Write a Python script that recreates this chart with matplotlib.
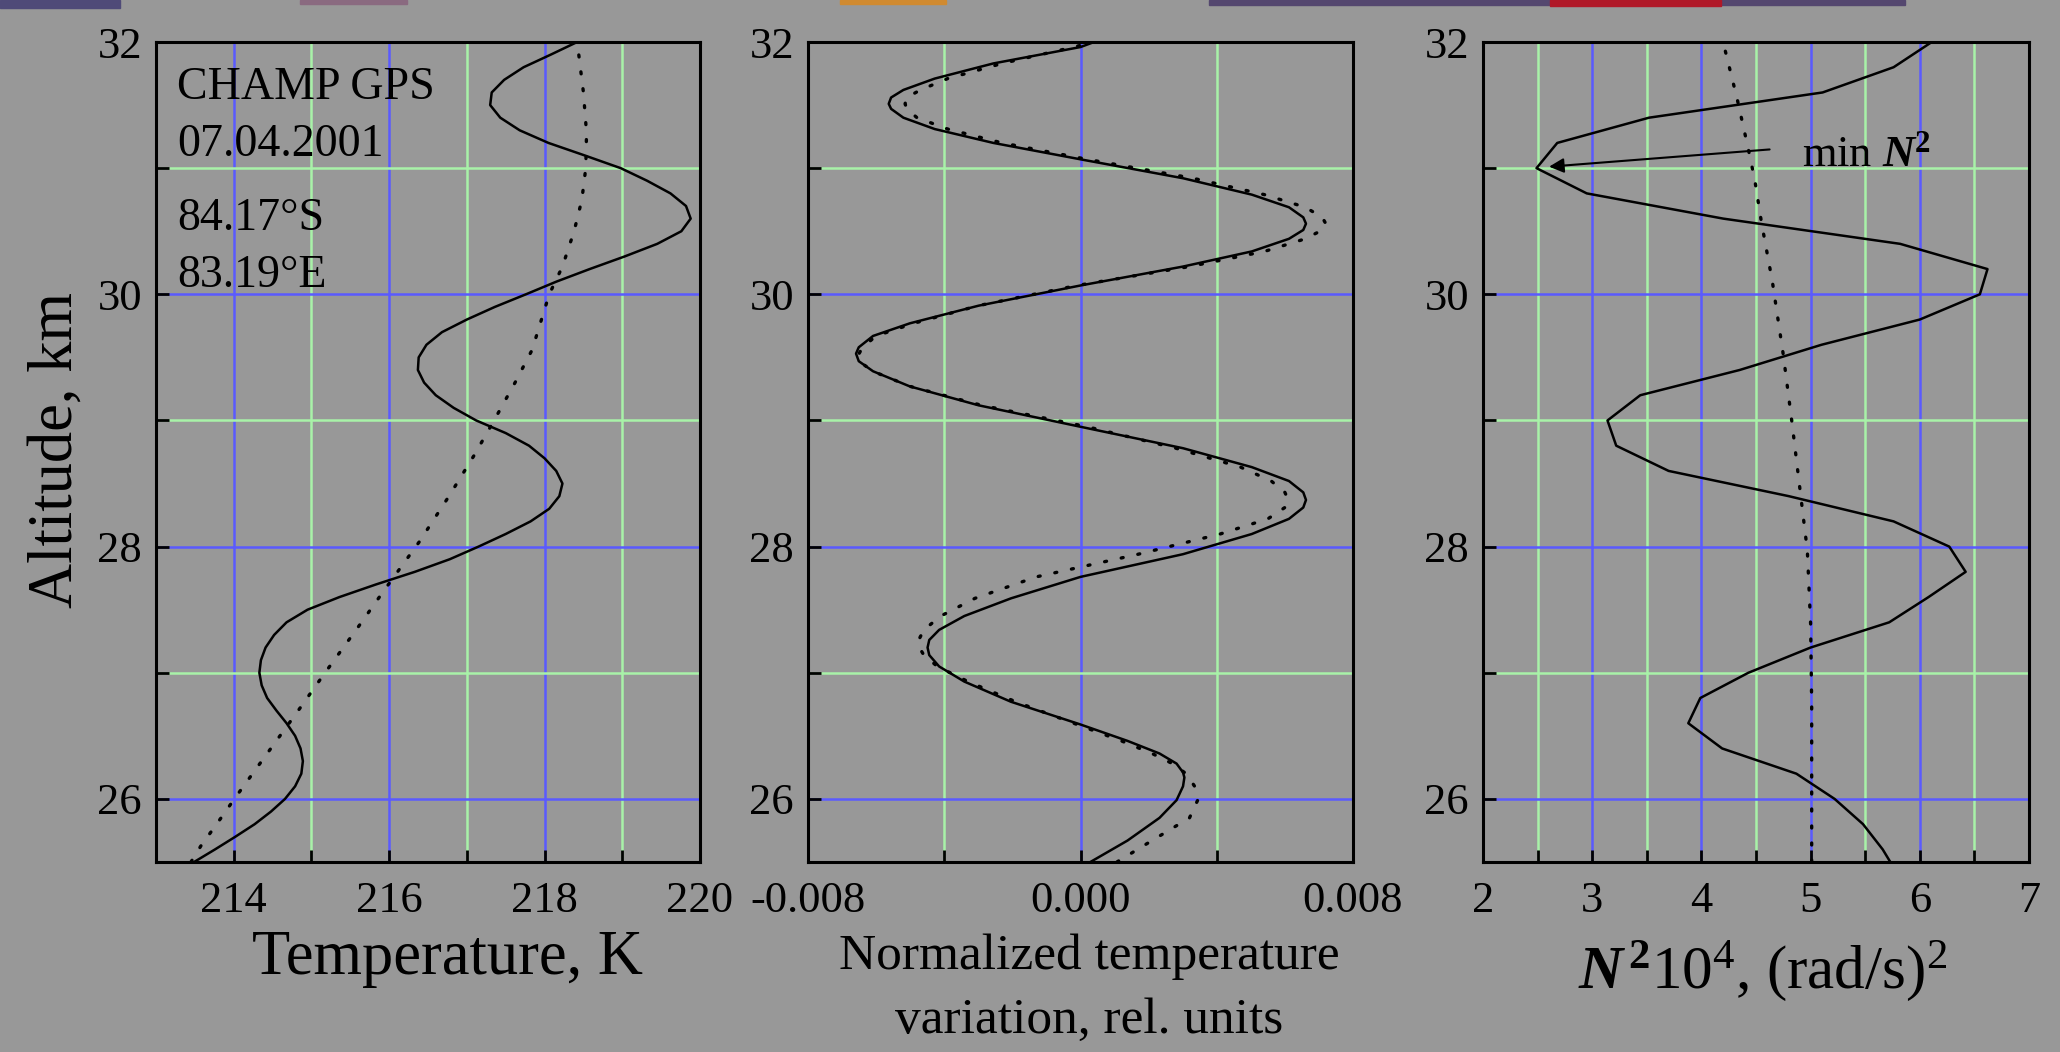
import matplotlib
matplotlib.use("Agg")
import matplotlib.pyplot as plt
from matplotlib.patches import Rectangle
from matplotlib.ticker import FormatStrFormatter

# ---- panel 1: temperature profile, K ----
t_alt = [25.5, 25.6, 25.7, 25.8, 25.9, 26.0, 26.1, 26.2, 26.3, 26.4, 26.5, 26.6, 26.7, 26.8,
         26.9, 27.0, 27.1, 27.2, 27.3, 27.4, 27.5, 27.6, 27.7, 27.8, 27.9, 28.0, 28.1, 28.2,
         28.3, 28.4, 28.5, 28.6, 28.7, 28.8, 28.9, 29.0, 29.1, 29.2, 29.3, 29.4, 29.5, 29.6,
         29.7, 29.8, 29.9, 30.0, 30.1, 30.2, 30.3, 30.4, 30.5, 30.6, 30.7, 30.8, 30.9, 31.0,
         31.1, 31.2, 31.3, 31.4, 31.5, 31.6, 31.7, 31.8, 31.9, 32.0]
t_solid = [213.49, 213.76, 214.02, 214.27, 214.48, 214.66, 214.79, 214.87, 214.89, 214.86,
           214.79, 214.68, 214.55, 214.43, 214.36, 214.33, 214.35, 214.41, 214.52, 214.68,
           214.95, 215.36, 215.83, 216.33, 216.78, 217.15, 217.5, 217.82, 218.06, 218.19,
           218.23, 218.15, 218.0, 217.8, 217.5, 217.12, 216.83, 216.6, 216.45, 216.37,
           216.38, 216.48, 216.68, 217.0, 217.36, 217.76, 218.15, 218.58, 219.03, 219.45,
           219.76, 219.88, 219.82, 219.62, 219.32, 218.98, 218.52, 218.05, 217.68, 217.43,
           217.3, 217.32, 217.48, 217.73, 218.08, 218.42]
td_alt = [25.5, 25.63, 25.8, 26.01, 26.3, 26.7, 26.97, 27.37, 27.64, 28.04, 28.4, 28.72, 29.0,
          29.3, 29.56, 29.8, 30.0, 30.22, 30.5, 30.75, 31.0, 31.28, 31.6, 32.0]
t_dot = [213.45, 213.58, 213.78, 214.02, 214.36, 214.83, 215.14, 215.61, 215.92, 216.39, 216.77,
         217.09, 217.35, 217.62, 217.84, 217.96, 218.06, 218.23, 218.38, 218.48, 218.53, 218.54,
         218.5, 218.42]

# ---- panel 2: normalized temperature variation ----
v_alt = [25.5, 25.67, 25.85, 25.99, 26.1, 26.17, 26.21, 26.28, 26.36, 26.46, 26.59,
         26.77, 26.93, 27.05, 27.14, 27.2, 27.26, 27.34, 27.45, 27.59, 27.76,
         27.94, 28.1, 28.22, 28.31, 28.37, 28.43, 28.52, 28.63, 28.78, 28.95,
         29.12, 29.27, 29.39, 29.47, 29.53, 29.58, 29.67, 29.77, 29.91, 30.07,
         30.22, 30.34, 30.44, 30.51, 30.56, 30.61, 30.69, 30.79, 30.92, 31.07,
         31.2, 31.31, 31.4, 31.47, 31.51, 31.56, 31.62, 31.71, 31.83, 31.96, 32.0]
v_solid = [0.00029, 0.00138, 0.00232, 0.00282, 0.00301, 0.00305, 0.00301, 0.00282, 0.00232, 0.00138, 0.0,
           -0.00204, -0.00341, -0.00415, -0.00444, -0.00449, -0.00444, -0.00415, -0.00341, -0.00204, 0.0,
           0.00301, 0.00503, 0.00612, 0.00654, 0.00662, 0.00654, 0.00612, 0.00503, 0.00301, 0.0,
           -0.00299, -0.00501, -0.00609, -0.00651, -0.00659, -0.00651, -0.00609, -0.00501, -0.00299, 0.0,
           0.00301, 0.00503, 0.00612, 0.00654, 0.00662, 0.00654, 0.00612, 0.00503, 0.00301, 0.0,
           -0.00256, -0.00428, -0.0052, -0.00556, -0.00563, -0.00556, -0.0052, -0.00428, -0.00256, 0.0, 0.0004]
v_dot = [0.00107, 0.0021, 0.0032, 0.00344, 0.00335, 0.00318, 0.00305, 0.0027, 0.0021, 0.0012, -0.0001,
         -0.0019, -0.0033, -0.0042, -0.0046, -0.00473, -0.00475, -0.0046, -0.0041, -0.0031, -0.0013,
         0.0017, 0.0041, 0.0055, 0.006, 0.0061, 0.006, 0.0056, 0.0047, 0.0028, 0.0002,
         -0.0029, -0.005, -0.0061, -0.0065, -0.0065, -0.0064, -0.006, -0.0049, -0.003, -0.0001,
         0.0032, 0.0054, 0.0066, 0.0071, 0.0072, 0.0071, 0.0066, 0.0054, 0.0033, 0.0002,
         -0.0023, -0.0039, -0.0048, -0.0051, -0.00515, -0.0051, -0.0047, -0.0039, -0.0023, -0.0002, 0.0004]

# ---- panel 3: N^2 * 1e4, (rad/s)^2 ----
n_alt = [25.5, 25.6, 25.8, 26.0, 26.2, 26.4, 26.6, 26.8, 27.0, 27.2, 27.4, 27.6, 27.8, 28.0,
         28.2, 28.4, 28.6, 28.8, 29.0, 29.2, 29.4, 29.6, 29.8, 30.0, 30.2, 30.4, 30.6, 30.8,
         31.0, 31.2, 31.4, 31.6, 31.8, 32.0]
n_solid = [5.73, 5.66, 5.48, 5.22, 4.87, 4.19, 3.88, 3.99, 4.43, 5.0, 5.72, 6.08, 6.42, 6.27,
           5.76, 4.8, 3.70, 3.22, 3.14, 3.44, 4.35, 5.1, 6.0, 6.55, 6.62, 5.82, 4.2, 2.95, 2.49,
           2.68, 3.52, 5.11, 5.76, 6.11]
nd_alt = [25.5, 26.0, 26.75, 27.39, 27.97, 28.4, 28.98, 29.52, 30.1, 30.57, 30.9, 31.15, 31.54, 31.96]
n_dot = [5.01, 5.01, 5.01, 5.0, 4.97, 4.91, 4.83, 4.75, 4.65, 4.55, 4.49, 4.43, 4.33, 4.21]

info_lines = ["CHAMP GPS", "07.04.2001", "84.17°S", "83.19°E"]

plt.rcParams['font.family'] = ['Liberation Serif', 'DejaVu Serif']
plt.rcParams['axes.unicode_minus'] = False
plt.rcParams['mathtext.fontset'] = 'custom'
plt.rcParams['mathtext.rm'] = 'Liberation Serif'
plt.rcParams['mathtext.it'] = 'Liberation Serif:italic'
plt.rcParams['mathtext.bf'] = 'Liberation Serif:bold'
plt.rcParams['mathtext.bfit'] = 'Liberation Serif:italic:bold'

bg = '#989898'
blue = '#5a5aff'
green = '#a8f2a8'
W, H = 2060, 1052

fig = plt.figure(figsize=(W / 100, H / 100), dpi=100, facecolor=bg)

# bits of the slide background peeking at the top
for x0, x1, h, c in [(0, 120, 8, '#4f4a78'), (300, 407, 4, '#8a6a80'), (840, 946, 4, '#d08a30'),
                     (1209, 1905, 5, '#54476f'), (1550, 1721, 6, '#b01828')]:
    fig.patches.append(Rectangle((x0 / W, 1 - h / H), (x1 - x0) / W, h / H,
                                 transform=fig.transFigure, color=c, zorder=0))

top, bot = 42, 862
spans = [(156, 700), (808, 1353), (1483, 2029)]
axes = []
for x0, x1 in spans:
    ax = fig.add_axes([x0 / W, 1 - bot / H, (x1 - x0) / W, (bot - top) / H])
    ax.set_facecolor(bg)
    ax.set_ylim(25.5, 32)
    ax.set_yticks([26, 28, 30, 32])
    ax.set_yticks([27, 29, 31], minor=True)
    ax.set_axisbelow(True)
    for s in ax.spines.values():
        s.set_linewidth(2.2)
    axes.append(ax)

ax1, ax2, ax3 = axes

ax1.set_xlim(213, 220)
ax1.set_xticks([214, 216, 218, 220])
ax1.set_xticks([215, 217, 219], minor=True)
ax2.set_xlim(-0.008, 0.008)
ax2.set_xticks([-0.008, 0.0, 0.008])
ax2.set_xticks([-0.004, 0.004], minor=True)
ax2.xaxis.set_major_formatter(FormatStrFormatter('%.3f'))
ax3.set_xlim(2, 7)
ax3.set_xticks([2, 3, 4, 5, 6, 7])
ax3.set_xticks([2.5, 3.5, 4.5, 5.5, 6.5], minor=True)

for ax in axes:
    ax.grid(which='major', color=blue, lw=1.8)
    ax.grid(which='minor', color=green, lw=1.8)
    ax.tick_params(which='both', direction='in', length=9, width=2, colors='k',
                   labelsize=32, top=False, right=False)
    ax.tick_params(axis='x', pad=14)
    ax.tick_params(axis='y', pad=10)

dots = (0, (0.6, 4.5))
ax1.plot(t_solid, t_alt, color='k', lw=1.8)
ax1.plot(t_dot, td_alt, color='k', lw=2.4, linestyle=dots, dash_capstyle='round')
for txt, yb in zip(info_lines, [31.55, 31.10, 30.51, 30.06]):
    ax1.text(213.27, yb, txt, fontsize=33, va='baseline', ha='left')

ax2.plot(v_solid, v_alt, color='k', lw=1.8)
ax2.plot(v_dot, v_alt, color='k', lw=2.4, linestyle=dots, dash_capstyle='round')

ax3.plot(n_solid, n_alt, color='k', lw=1.8)
ax3.plot(n_dot, nd_alt, color='k', lw=2.4, linestyle=dots, dash_capstyle='round')
ax3.annotate('', xy=(2.58, 31.01), xytext=(4.65, 31.15),
             arrowprops=dict(arrowstyle='-|>', color='k', lw=1.5, mutation_scale=22))
ax3.text(4.92, 31.1, r'min $\mathbfit{N}^{\mathbf{2}}$', fontsize=32, va='center', ha='left')

fig.text(57 / W, 1 - 450 / H, 'Altitude, km', fontsize=45, rotation=90, ha='center', va='center')
fig.text(447 / W, 1 - 974 / H, 'Temperature, K', fontsize=45, ha='center', va='baseline')
fig.text(1089 / W, 1 - 969 / H, 'Normalized temperature', fontsize=37, ha='center', va='baseline')
fig.text(1089 / W, 1 - 1033 / H, 'variation, rel. units', fontsize=37, ha='center', va='baseline')
fig.text(1763 / W, 1 - 988 / H, r'$\mathbfit{N}^{\,\mathbf{2}}\mathrm{10}^{4}$, (rad/s)$^{2}$',
         fontsize=44, ha='center', va='baseline')

fig.savefig('out.png', dpi=100, facecolor=bg)
